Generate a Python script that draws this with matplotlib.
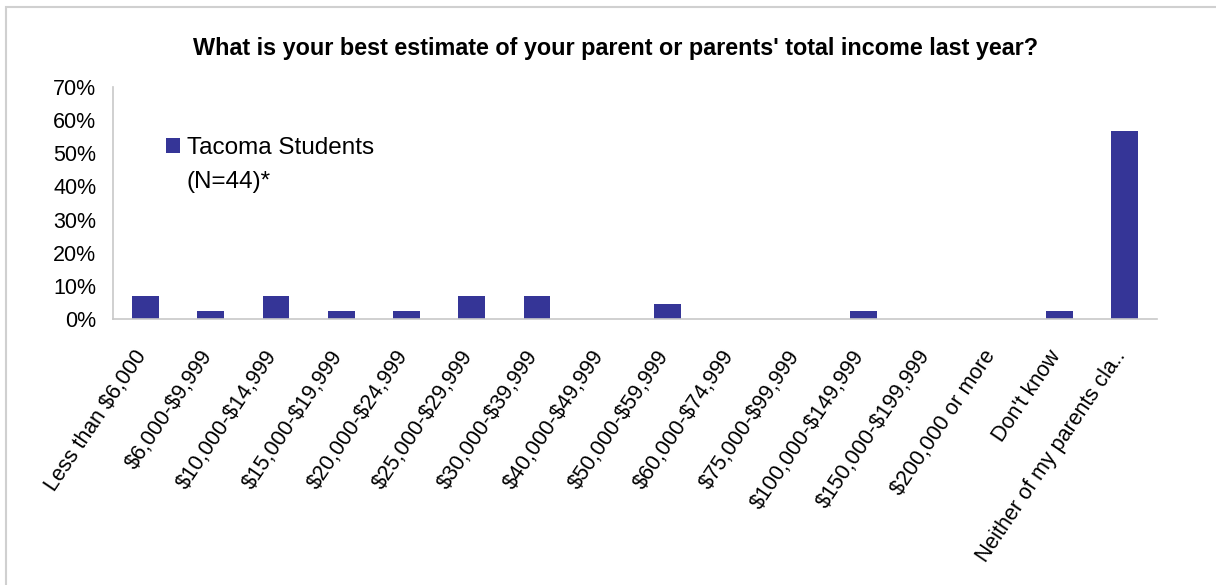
import matplotlib.pyplot as plt
import matplotlib.patches as patches
import matplotlib.transforms as mtransforms
from matplotlib.ticker import FuncFormatter

plt.rcParams['font.family'] = ['Liberation Sans', 'DejaVu Sans']
plt.rcParams['text.parse_math'] = False

categories = ['Less than $6,000', '$6,000-$9,999', '$10,000-$14,999', '$15,000-$19,999',
              '$20,000-$24,999', '$25,000-$29,999', '$30,000-$39,999', '$40,000-$49,999',
              '$50,000-$59,999', '$60,000-$74,999', '$75,000-$99,999', '$100,000-$149,999',
              '$150,000-$199,999', '$200,000 or more', "Don't know", 'Neither of my parents cla..']
# share of respondents (N=44)
values = [6.8, 2.3, 6.8, 2.3, 2.3, 6.8, 6.8, 0.0, 4.5, 0.0, 0.0, 2.3, 0.0, 0.0, 2.3, 56.8]
series_name = 'Tacoma Students'
series_note = '(N=44)*'
title = "What is your best estimate of your parent or parents' total income last year?"

fig = plt.figure(figsize=(12.16, 5.85), dpi=100)
fig.patches.append(patches.Rectangle((6 / 1216, -0.1), 2.0, 1 - 7 / 585 + 0.1,
                                     transform=fig.transFigure, fill=False,
                                     edgecolor='#d0d0d0', linewidth=1.5))

ax = fig.add_axes([0.0929, 0.4547, 0.8586, 0.3966])
x = range(len(categories))
ax.bar(x, values, width=0.41, color='#353597', label=series_name)

ax.set_xlim(-0.5, len(categories) - 0.5)
ax.set_ylim(0, 70)
ax.set_yticks(range(0, 71, 10))
ax.yaxis.set_major_formatter(FuncFormatter(lambda v, p: f'{v:.0f}%'))
ax.set_xticks(list(x))
ax.set_xticklabels(categories, rotation=56, ha='right', va='center',
                   rotation_mode='anchor', fontsize=15.5)
ax.tick_params(axis='y', labelsize=15.5, length=0, pad=12)
ax.tick_params(axis='x', length=0, pad=24)
shift = mtransforms.ScaledTranslation(-3 / 100, 0, fig.dpi_scale_trans)
for lbl in ax.get_xticklabels():
    lbl.set_transform(lbl.get_transform() + shift)

for s in ['top', 'right']:
    ax.spines[s].set_visible(False)
for s in ['left', 'bottom']:
    ax.spines[s].set_color('#c8c8c8')
    ax.spines[s].set_linewidth(1.2)

leg = ax.legend(loc='upper left', bbox_to_anchor=(0.0508, 0.785), frameon=False, fontsize=17.5,
                handlelength=0.58, handleheight=0.58, handletextpad=0.3, borderaxespad=0,
                borderpad=0)
ax.annotate(series_note, xy=(0, 0), xycoords=leg.get_texts()[0], xytext=(-0.5, -21),
            textcoords='offset points', va='baseline', ha='left', fontsize=17.5, zorder=10)

fig.text(0.506, 0.917, title, ha='center', va='center', fontsize=16.8, fontweight='bold')

fig.savefig('out.png', dpi=100)
